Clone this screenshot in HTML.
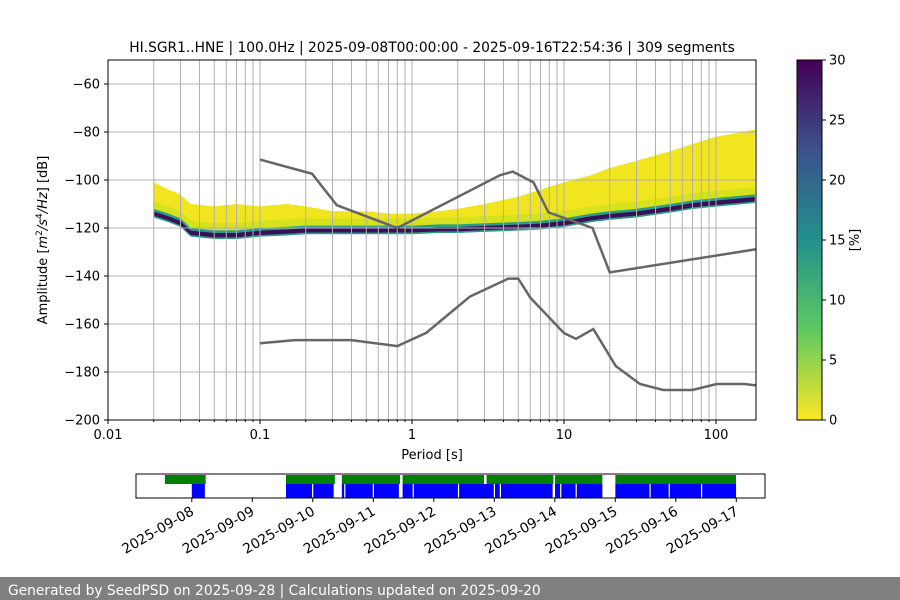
<!DOCTYPE html>
<html><head><meta charset="utf-8"><style>
body{margin:0;background:#fff;}
svg{display:block;font-family:"DejaVu Sans","Liberation Sans",sans-serif;}
</style></head><body>
<svg id="c" width="900" height="600" xmlns="http://www.w3.org/2000/svg">
<defs>
<linearGradient id="vir" x1="0" y1="1" x2="0" y2="0">
<stop offset="0" stop-color="#fde725"/><stop offset="0.25" stop-color="#5ec962"/><stop offset="0.5" stop-color="#21918c"/><stop offset="0.75" stop-color="#3b528b"/><stop offset="1" stop-color="#440154"/>
</linearGradient>
<clipPath id="ax"><rect x="108" y="60" width="648" height="360"/></clipPath>
</defs>
</svg>
<script>
// ---- data ----
const periods=[0.02,0.025,0.03,0.035,0.05,0.07,0.1,0.15,0.2,0.3,0.5,0.7,1,1.5,2,3,5,7,10,15,20,30,50,70,100,180];
const upperDb=[-101,-104,-106,-110,-111,-110,-111,-110,-111,-113,-113,-114,-114,-113,-112,-110,-107,-104,-101,-98,-95,-92,-88,-85,-82,-79];
const modeDb=[-114,-116,-118,-122,-123,-123,-122,-121.5,-121,-121,-121,-121,-121,-120.5,-120.5,-120,-119.5,-119,-118,-116,-115,-114,-112,-110.5,-109.5,-108];
const nhnmP=[0.1,0.22,0.32,0.8,3.8,4.6,6.3,7.9,15.4,20,354.8];
const nhnmDb=[-91.5,-97.4,-110.5,-120,-98,-96.5,-101,-113.5,-120,-138.5,-126];
const nlnmP=[0.1,0.17,0.4,0.8,1.24,2.4,4.3,5,6,10,12,15.6,21.9,31.6,45,70,101,154,328];
const nlnmDb=[-168,-166.7,-166.7,-169.2,-163.7,-148.6,-141.1,-141.1,-149,-163.8,-166.2,-162.1,-177.5,-185,-187.5,-187.5,-185,-185,-187.5];
const yTicks=[-60,-80,-100,-120,-140,-160,-180,-200];
const xTickVals=[0.01,0.1,1,10,100];
const xTickLabels=["0.01","0.1","1","10","100"];
const cbTicks=[0,5,10,15,20,25,30];
const dateLabels=["2025-09-08","2025-09-09","2025-09-10","2025-09-11","2025-09-12","2025-09-13","2025-09-14","2025-09-15","2025-09-16","2025-09-17"];
const greenSegs=[[-0.445,0.229],[1.557,2.365],[2.48,3.443],[3.484,4.83],[4.872,5.977],[6.004,6.786],[7.001,8.996]];
const blueSegs=[[0,0.216],[1.557,2.345],[2.48,3.423],[3.484,5.964],[6.004,6.786],[7.001,8.996]];
const gapDays=[1.996,2.527,2.999,3.659,4.407,5.0,5.099,6.096,6.352,7.573,7.89,8.425];

// ---- helpers ----
const svg=document.getElementById('c');const NS="http://www.w3.org/2000/svg";
function mk(t,a,p){const e=document.createElementNS(NS,t);for(const k in a)e.setAttribute(k,a[k]);(p||svg).appendChild(e);return e;}
const X=p=>108+152*(Math.log10(p)+2);
const Y=d=>60+(-50-d)*2.4;
const T=d=>191.8+60.5*d;

// heatmap bands
const hm=mk('g',{'clip-path':'url(#ax)'});
function band(top,bot,col,name){let pts=[];periods.forEach((p,i)=>pts.push(X(p)+','+Y(top(i))));for(let i=periods.length-1;i>=0;i--)pts.push(X(periods[i])+','+Y(bot(i)));const e=mk('polygon',{points:pts.join(' '),fill:col},hm);}
band(i=>upperDb[i],i=>modeDb[i]-1.5,'#f0e51e','band-low-density');
band(i=>Math.min(upperDb[i],modeDb[i]+5),i=>modeDb[i]-1.5,'#d6e21c','band-mid-density');
band(i=>modeDb[i]+2,i=>modeDb[i]-1.6,'#2a9d86','band-high-density');
band(i=>modeDb[i]+0.9,i=>modeDb[i]-0.9,'#3a0f5a','band-mode');

// grid (drawn over histogram)
const grid=mk('g',{});
for(let e=-2;e<=2;e++)for(let m=1;m<10;m++){const p=m*Math.pow(10,e);const x=X(p);if(x<=108.5||x>756)continue;mk('line',{x1:x,x2:x,y1:60,y2:420,stroke:'#b0b0b0','stroke-width':1},grid);}
yTicks.forEach(v=>{mk('line',{x1:108,x2:756,y1:Y(v),y2:Y(v),stroke:'#b0b0b0','stroke-width':1},grid);});

// noise models
function line(P,D,name){const e=mk('polyline',{points:P.map((p,i)=>X(p)+','+Y(D[i])).join(' '),fill:'none',stroke:'#666','stroke-width':2.5,'clip-path':'url(#ax)'});}
line(nhnmP,nhnmDb,'nhnm-line');line(nlnmP,nlnmDb,'nlnm-line');

// axes frame
const fr=mk('rect',{x:108,y:60,width:648,height:360,fill:'none',stroke:'#000','stroke-width':1});
yTicks.forEach(v=>{mk('line',{x1:104,x2:108,y1:Y(v),y2:Y(v),stroke:'#000'});const t=mk('text',{x:100,y:Y(v)+4.5,'text-anchor':'end','font-size':13});t.textContent='\u2212'+Math.abs(v);});
xTickVals.forEach((v,i)=>{mk('line',{x1:X(v),x2:X(v),y1:420,y2:424,stroke:'#000'});const t=mk('text',{x:X(v),y:439,'text-anchor':'middle','font-size':13});t.textContent=xTickLabels[i];});
for(let e=-2;e<=2;e++)for(let m=2;m<10;m++){const x=X(m*Math.pow(10,e));if(x>756)continue;mk('line',{x1:x,x2:x,y1:420,y2:422,stroke:'#000'});}
let t=mk('text',{x:432,y:459,'text-anchor':'middle','font-size':13});t.textContent='Period [s]';
t=mk('text',{x:0,y:0,'text-anchor':'middle','font-size':13,transform:'translate(47,240) rotate(-90)'});t.innerHTML='Amplitude [<tspan font-style="italic">m</tspan><tspan font-size="9" dy="-5">2</tspan><tspan dy="5" font-style="italic">/s</tspan><tspan font-size="9" dy="-5">4</tspan><tspan dy="5" font-style="italic">/Hz</tspan>] [dB]';
t=mk('text',{x:432,y:52,'text-anchor':'middle','font-size':13.8});t.textContent='HI.SGR1..HNE | 100.0Hz | 2025-09-08T00:00:00 - 2025-09-16T22:54:36 | 309 segments';

// colorbar
const cb=mk('rect',{x:797,y:60,width:25,height:360,fill:'url(#vir)',stroke:'#000','stroke-width':1});
cbTicks.forEach(v=>{const y=420-v*12;mk('line',{x1:822,x2:826,y1:y,y2:y,stroke:'#000'});const e=mk('text',{x:829,y:y+4.5,'font-size':13});e.textContent=v;});
t=mk('text',{x:0,y:0,'text-anchor':'middle','font-size':13,transform:'translate(859,240) rotate(-90)'});t.textContent='[%]';

// timeline
const tl=mk('g',{});
greenSegs.forEach(s=>{const e=mk('rect',{x:T(s[0]),y:475,width:T(s[1])-T(s[0]),height:9,fill:'#008000'},tl);});
blueSegs.forEach(s=>{const e=mk('rect',{x:T(s[0]),y:484,width:T(s[1])-T(s[0]),height:14,fill:'#0000ff'},tl);});
gapDays.forEach(d=>mk('rect',{x:T(d)-0.5,y:484,width:1.2,height:14,fill:'#fff'},tl));
mk('rect',{x:136,y:474,width:629,height:24,fill:'none',stroke:'#000','stroke-width':1},tl);
dateLabels.forEach((l,i)=>{const x=T(i);mk('line',{x1:x,x2:x,y1:498,y2:502,stroke:'#000'});const e=mk('text',{x:0,y:0,'text-anchor':'end','font-size':13.8,transform:`translate(${x+3},${514}) rotate(-30)`});e.textContent=l;});

// footer
const fb=mk('rect',{x:0,y:577,width:900,height:23,fill:'#808080'});
t=mk('text',{x:8,y:595,'font-size':13.8,fill:'#fff'});t.textContent='Generated by SeedPSD on 2025-09-28 | Calculations updated on 2025-09-20';
</script>
</body></html>
